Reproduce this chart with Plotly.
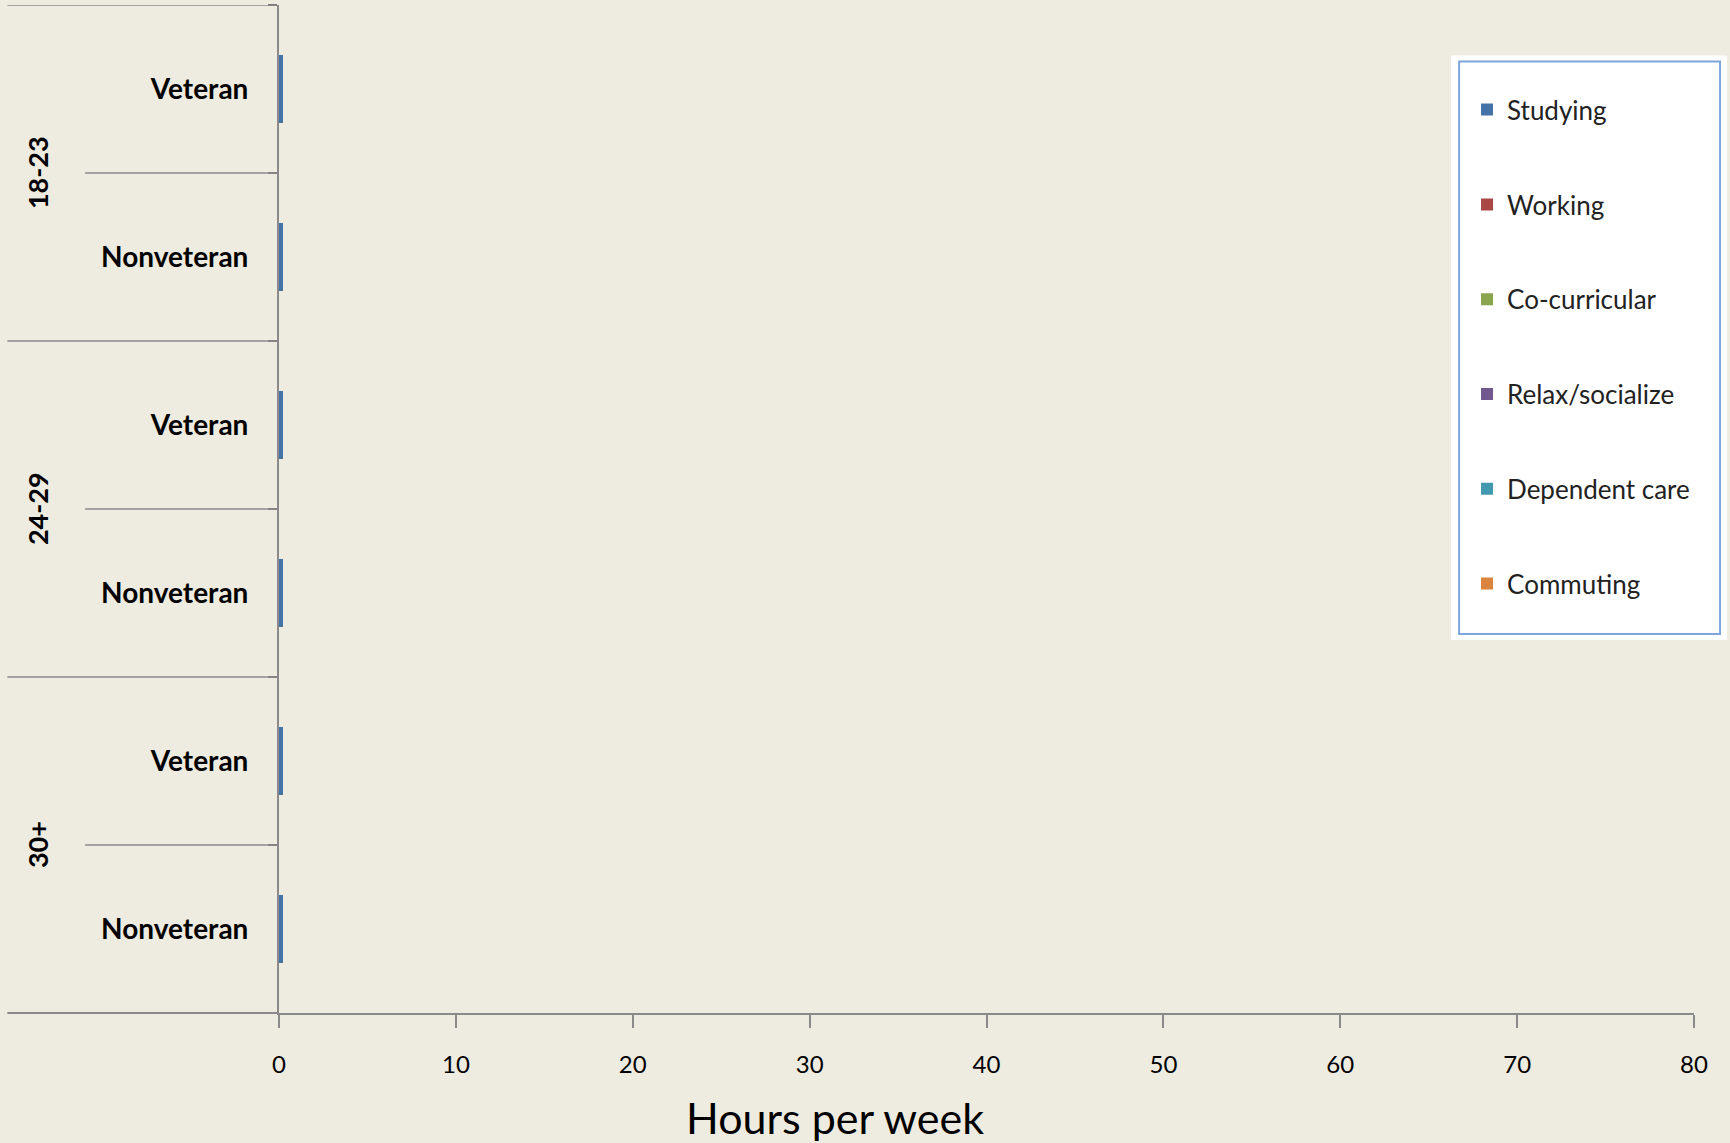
import plotly.graph_objects as go

# ---- data ----
age_groups = ["18-23", "24-29", "30+"]
statuses = ["Veteran", "Nonveteran"]
series_names = ["Studying", "Working", "Co-curricular", "Relax/socialize", "Dependent care", "Commuting"]
series_colors = ["#4572A7", "#AA4643", "#89A54E", "#71588F", "#4198AF", "#DB843D"]
# hours per week, rows ordered: 18-23 Vet, 18-23 Nonvet, 24-29 Vet, 24-29 Nonvet, 30+ Vet, 30+ Nonvet
studying = [0.25, 0.25, 0.25, 0.25, 0.25, 0.25]
working = [0, 0, 0, 0, 0, 0]
cocurricular = [0, 0, 0, 0, 0, 0]
relax = [0, 0, 0, 0, 0, 0]
dependent = [0, 0, 0, 0, 0, 0]
commuting = [0, 0, 0, 0, 0, 0]
series_values = [studying, working, cocurricular, relax, dependent, commuting]
x_ticks = [0, 10, 20, 30, 40, 50, 60, 70, 80]

rows = [(g, s) for g in age_groups for s in statuses]
ypos = list(range(len(rows)))
row_labels = ["<b>%s</b>" % s for g, s in rows]

FONT = "Lato"
BG = "#EEECE1"
GRAY = "#8A8A8A"

fig = go.Figure()
for i, (name, vals, col) in enumerate(zip(series_names, series_values, series_colors)):
    fig.add_trace(go.Bar(
        y=ypos, x=vals, name=name, orientation="h", width=0.4,
        marker=dict(color=col, line=dict(width=0)),
        legendgroup="g%d" % i,
    ))

shapes = []
n = len(rows)
for b in range(n):
    yb = b - 0.5
    long = (b % len(statuses) == 0)
    shapes.append(dict(type="line", xref="paper", yref="y",
                       x0=-0.192 if long else -0.137, x1=0, y0=yb, y1=yb,
                       line=dict(color=GRAY, width=1.5)))
# bottom axis extension
shapes.append(dict(type="line", xref="paper", yref="paper", x0=-0.192, x1=0, y0=0, y1=0,
                   line=dict(color=GRAY, width=2)))
# legend boxes
shapes.append(dict(type="rect", xref="paper", yref="paper", x0=0.8283, x1=1.0233, y0=0.370, y1=0.950,
                   fillcolor="white", line=dict(width=0), layer="above"))
shapes.append(dict(type="rect", xref="paper", yref="paper", x0=0.834, x1=1.0184, y0=0.376, y1=0.944,
                   fillcolor="rgba(0,0,0,0)", line=dict(color="#7EA6DC", width=2), layer="above"))

annotations = []
for gi, g in enumerate(age_groups):
    center = gi * len(statuses) + (len(statuses) - 1) / 2
    annotations.append(dict(text="<b>%s</b>" % g, xref="paper", yref="y", x=-0.171, y=center,
                            textangle=-90, showarrow=False, xanchor="center", yanchor="middle",
                            font=dict(family=FONT, size=27, color="black")))
annotations.append(dict(text="Hours per week", xref="paper", yref="paper", x=0.393, y=-0.104,
                        showarrow=False, xanchor="center", yanchor="middle",
                        font=dict(family=FONT, size=43, color="black")))

fig.update_layout(
    width=1730, height=1143,
    margin=dict(l=279, r=36, t=5, b=130),
    paper_bgcolor=BG, plot_bgcolor=BG,
    barmode="stack",
    font=dict(family=FONT, color="black"),
    showlegend=True,
    legend=dict(x=0.8396, xanchor="left", y=0.661, yanchor="middle",
                bgcolor="rgba(0,0,0,0)", borderwidth=0,
                font=dict(family=FONT, size=26, color="#222222"),
                tracegroupgap=58, traceorder="grouped"),
    xaxis=dict(range=[0, 80], tickvals=x_ticks, ticks="outside", ticklen=13, tickwidth=2,
               tickcolor=GRAY, showline=True, linecolor=GRAY, linewidth=2, showgrid=False,
               zeroline=False, tickfont=dict(family=FONT, size=24, color="black"),
               ticklabelstandoff=16),
    yaxis=dict(range=[n - 0.5, -0.5], tickvals=ypos, ticktext=row_labels, ticks="",
               showline=True, linecolor=GRAY, linewidth=2, showgrid=False, zeroline=False,
               tickfont=dict(family=FONT, size=28, color="black"), ticklabelstandoff=23,
               minor=dict(tickvals=[b - 0.5 for b in range(n + 1)], ticks="outside",
                          ticklen=9, tickwidth=2, tickcolor="#7A7A7A")),
    shapes=shapes,
    annotations=annotations,
)

fig.write_html("out.html", config={"displayModeBar": False},
               post_script="document.body.style.margin='0';document.body.style.overflow='hidden';")
